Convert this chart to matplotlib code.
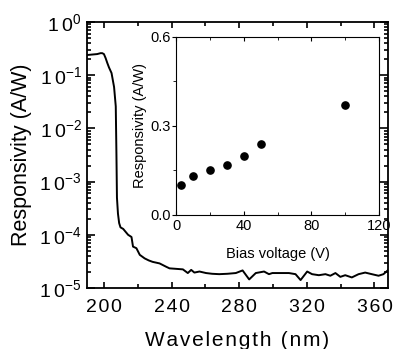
import math
import matplotlib
matplotlib.use("Agg")
import matplotlib.pyplot as plt
from matplotlib.ticker import MultipleLocator, LogLocator, FuncFormatter, NullFormatter

plt.rcParams['font.family'] = ['Liberation Sans', 'DejaVu Sans']
plt.rcParams['mathtext.fontset'] = 'custom'
plt.rcParams['mathtext.rm'] = 'Liberation Sans'

# main curve: responsivity spectrum
wavelength = [190, 193, 196, 198, 199, 200, 201, 202, 203, 204.5, 206, 207.0, 207.4,
              207.7, 208.3, 209.0, 209.8, 211.4, 213.0, 214.3, 216.3, 217.2, 219.2,
              221.2, 224.1, 226.5, 228.8, 232.9, 236.9, 238.8, 242.0, 246.7, 249.6,
              251.6, 253.5, 256.5, 260.4, 264.0, 268.2, 273.0, 278.0, 282.0, 285.9,
              289.8, 294.7, 297.6, 299.6, 303.5, 309.4, 313.3, 316.3, 320.2, 323.1,
              327.1, 331.0, 333.9, 336.9, 339.8, 342.7, 346.6, 350.6, 354.5, 358.4,
              362.4, 365.3, 369.2]
responsivity = [0.24, 0.245, 0.25, 0.26, 0.26, 0.25, 0.21, 0.17, 0.14, 0.11, 0.06, 0.026, 3.2e-3,
                5.0e-4, 2.5e-4, 1.66e-4, 1.38e-4, 1.29e-4, 1.12e-4, 1.0e-4, 9.1e-5, 6.0e-5, 5.6e-5,
                4.2e-5, 3.6e-5, 3.3e-5, 3.1e-5, 2.9e-5, 2.5e-5, 2.34e-5, 2.3e-5, 2.24e-5, 1.91e-5,
                2.19e-5, 1.95e-5, 2.04e-5, 1.91e-5, 1.85e-5, 1.82e-5, 1.85e-5, 1.91e-5, 2.14e-5, 1.45e-5,
                1.91e-5, 2.04e-5, 1.82e-5, 1.91e-5, 1.91e-5, 1.91e-5, 1.82e-5, 1.41e-5, 2.04e-5, 1.82e-5,
                1.74e-5, 1.82e-5, 1.70e-5, 1.91e-5, 1.62e-5, 1.74e-5, 1.58e-5, 1.82e-5, 1.95e-5, 1.82e-5,
                1.70e-5, 1.82e-5, 2.34e-5]

# inset: responsivity vs bias
bias = [3, 10, 20, 30, 40, 50, 100]
resp_bias = [0.10, 0.13, 0.15, 0.17, 0.20, 0.24, 0.37]

fig = plt.figure(figsize=(3.95, 3.49), dpi=100)
ax = fig.add_axes([0.2203, 0.1748, 0.762, 0.762])

ax.plot(wavelength, responsivity, color='black', lw=1.4)
ax.set_yscale('log')
ax.set_xlim(190, 368)
ax.set_ylim(1e-5, 1)

ax.xaxis.set_major_locator(MultipleLocator(40))
ax.xaxis.set_minor_locator(MultipleLocator(20))
ax.xaxis.set_major_formatter(FuncFormatter(lambda v, p: '\u200a'.join(str(int(v)))))
ax.yaxis.set_major_locator(LogLocator(base=10, numticks=10))
ax.yaxis.set_minor_locator(LogLocator(base=10, subs=range(2, 10), numticks=10))
ax.yaxis.set_minor_formatter(NullFormatter())
ax.yaxis.set_major_formatter(FuncFormatter(
    lambda v, p: r'$\mathregular{1\,0^{%d}}$' % round(math.log10(v))))

ax.tick_params(axis='both', which='both', direction='in', top=True, right=True, width=1.2)
ax.tick_params(axis='x', which='major', length=4, labelsize=14, pad=8)
ax.tick_params(axis='x', which='minor', length=3)
ax.tick_params(axis='y', which='major', length=6, labelsize=14, pad=4)
ax.tick_params(axis='y', which='minor', length=3)
for s in ax.spines.values():
    s.set_linewidth(1.3)

ax.set_xlabel('\u200a'.join('Wavelength (nm)'), fontsize=15, labelpad=11)
ax.set_ylabel('Responsivity (A/W)', fontsize=15.5, labelpad=5)

# inset
ins = fig.add_axes([0.4456, 0.384, 0.5139, 0.510])
ins.plot(bias, resp_bias, 'o', color='black', ms=5.2)
ins.set_xlim(0, 120)
ins.set_ylim(0, 0.6)
ins.xaxis.set_major_locator(MultipleLocator(40))
ins.xaxis.set_minor_locator(MultipleLocator(20))
ins.yaxis.set_major_locator(MultipleLocator(0.3))
ins.yaxis.set_minor_locator(MultipleLocator(0.15))
ins.yaxis.set_major_formatter(FuncFormatter(lambda v, p: '%.1f' % v))
ins.tick_params(axis='x', which='both', direction='in', top=True, labelsize=10.5, pad=3)
ins.tick_params(axis='x', which='major', length=3)
ins.tick_params(axis='x', which='minor', length=2)
ins.tick_params(axis='y', which='both', direction='out', labelsize=10.5, pad=1)
ins.tick_params(axis='y', which='major', length=3)
ins.tick_params(axis='y', which='minor', length=2)
ins.set_xlabel('Bias voltage (V)', fontsize=10.5, labelpad=10)
ins.set_ylabel('Responsivity (A/W)', fontsize=10.5, labelpad=2)

fig.savefig('out.png', dpi=100)
